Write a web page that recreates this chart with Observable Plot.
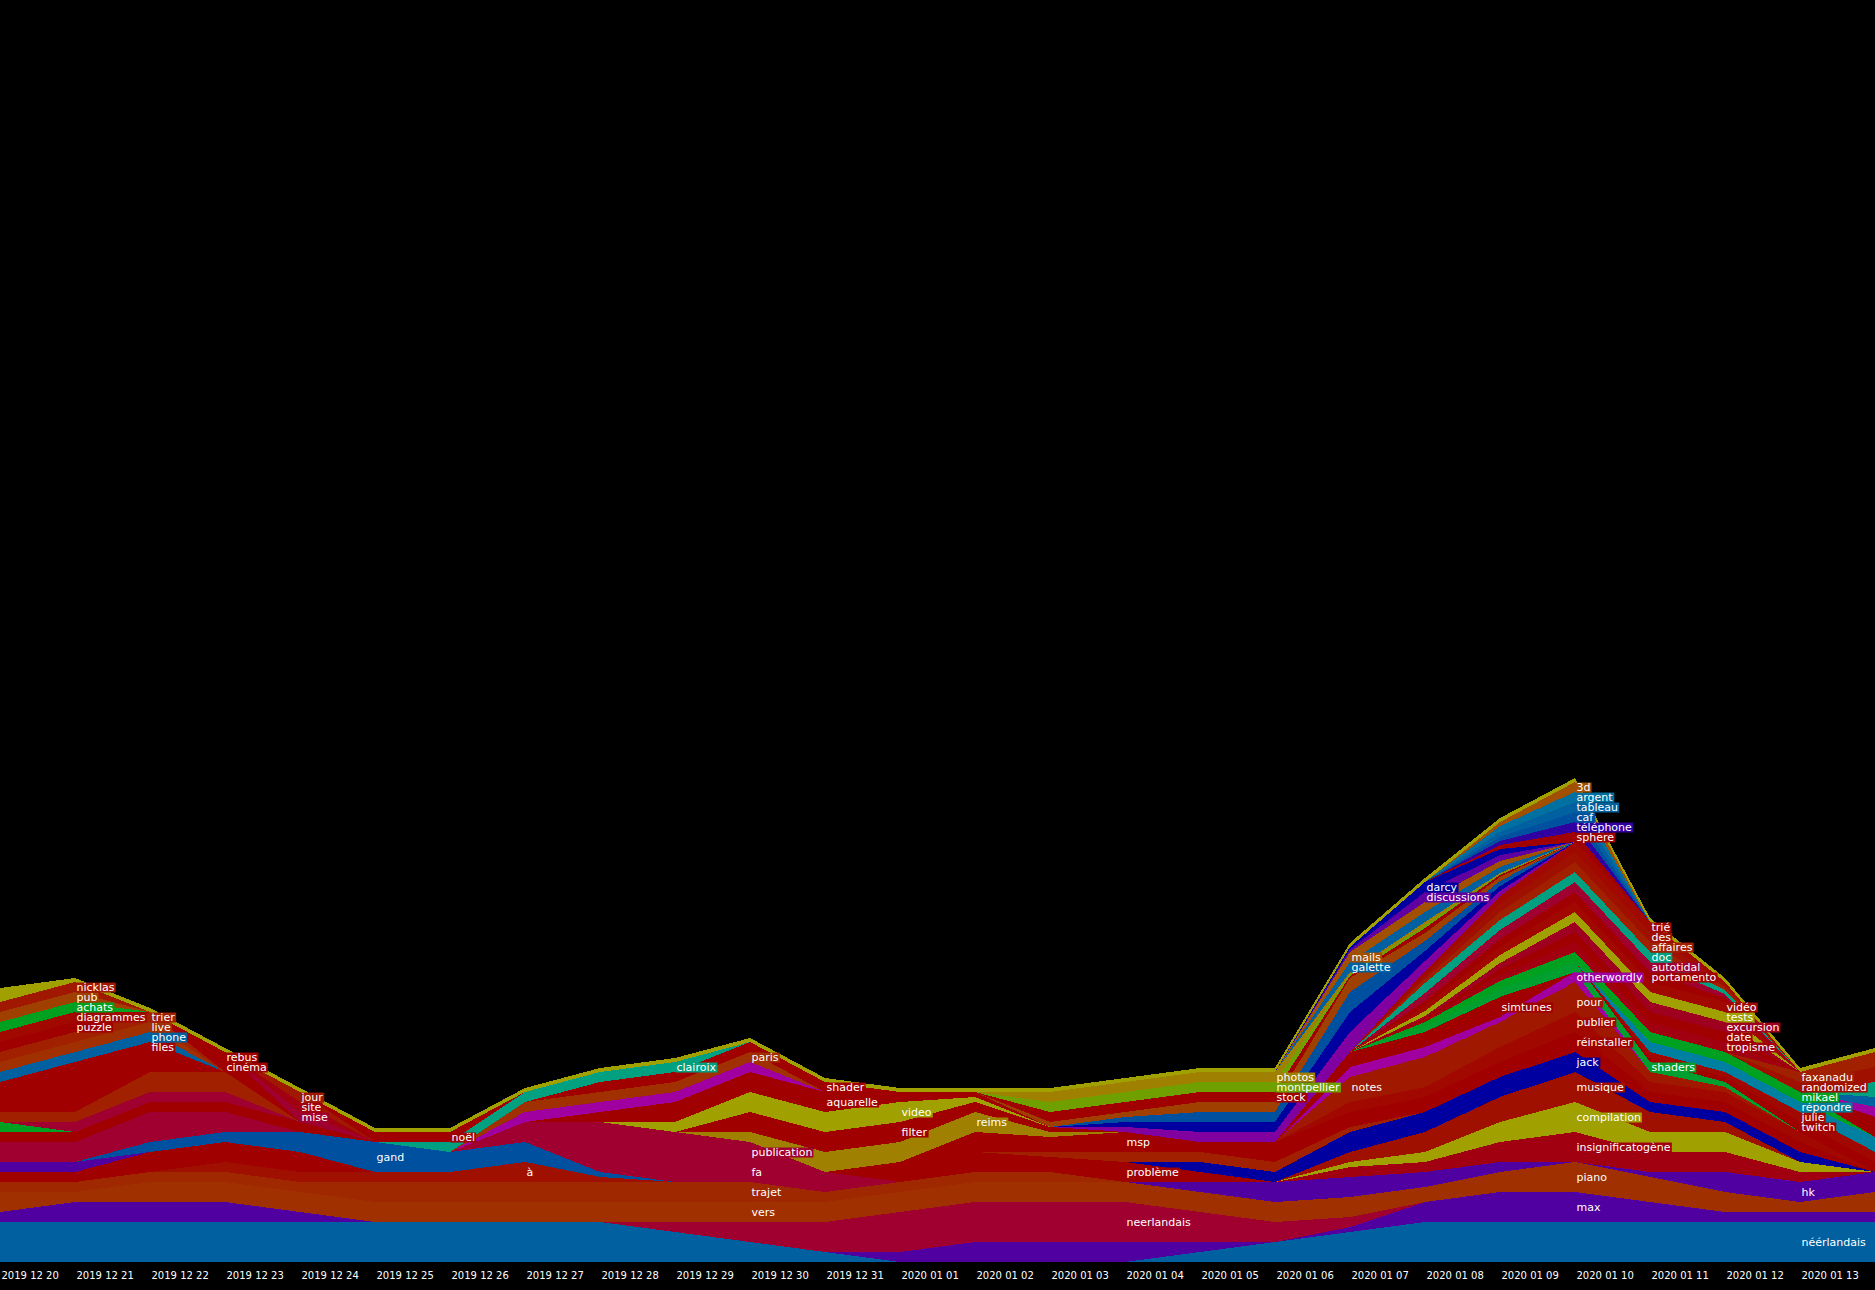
<!DOCTYPE html>
<html><head><meta charset="utf-8">
<script src="https://cdn.jsdelivr.net/npm/d3@7"></script>
<script src="https://cdn.jsdelivr.net/npm/@observablehq/plot@0.6"></script>
<style>
html,body{margin:0;padding:0;background:#000;overflow:hidden}
#chart svg{display:block}
</style></head><body><div id="chart"></div>
<script>
// Days (x categories); the last day has no visible tick label
const dates = ["2019 12 20","2019 12 21","2019 12 22","2019 12 23","2019 12 24","2019 12 25","2019 12 26","2019 12 27","2019 12 28","2019 12 29","2019 12 30","2019 12 31","2020 01 01","2020 01 02","2020 01 03","2020 01 04","2020 01 05","2020 01 06","2020 01 07","2020 01 08","2020 01 09","2020 01 10","2020 01 11","2020 01 12","2020 01 13","2020 01 14"];

// Words in stacking order (bottom to top); names starting with "~" are unlabeled layers
const words = ["néérlandais","max","neerlandais","vers","piano","hk","trajet","à","~r1","~p1","gand","~c1","~r2","~g1","~c2","~o1","~r3","files","phone","live","trier","puzzle","diagrammes","achats","pub","nicklas","~ol","cinéma","rebus","mise","site","jour","fa","publication","problème","insignificatogène","compilation","musique","jack","~o2","msp","réinstaller","publier","pour","notes","otherwordly","simtunes","shaders","twitch","julie","répondre","mikael","~r4","~m1","~b1","~t1","randomized","faxanadu","tropisme","date","excursion","tests","vidéo","portamento","autotidal","doc","affaires","des","trié","reims","filter","video","aquarelle","~m2","paris","shader","clairoix","noël","~v1","~db1","~b2","~o3","stock","montpellier","photos","galette","mails","discussions","darcy","sphere","téléphone","caf","tableau","argent","3d","~top"];

const colors = ["#0060a0","#5000a0","#a00030","#a03000","#a03000","#5000a0","#a02800","#a01000","#a00000","#5000a0","#0050a0","#a00030","#a00000","#00a020","#a00030","#a02000","#a00000","#a00000","#0060a0","#a03000","#a02000","#a00000","#a00800","#00a020","#a04000","#a01800","#a0a000","#a00000","#a00000","#a00030","#a00010","#a01800","#a00030","#a00030","#a00000","#a00010","#a0a000","#a01000","#0000a0","#a02000","#a00000","#a00000","#a00800","#a01800","#a01800","#a000a0","#a00000","#00a030","#a00000","#a00800","#0080a0","#00a020","#a00000","#a000a0","#0060a0","#00a080","#a01000","#a02000","#a00010","#a00000","#a00020","#a0a000","#a00800","#a00000","#a00030","#00a080","#a02000","#a01000","#a00800","#a08000","#a00000","#a0a000","#a00000","#a000a0","#a03000","#a00000","#00a080","#a00000","#8000a0","#0000a0","#0050a0","#a04000","#a00000","#70a000","#a08000","#0060a0","#a05000","#6000a0","#0000a0","#a00000","#3000a0","#0050a0","#0060a0","#0070a0","#a05000","#a0a000"];

// Day index where each word's label is written (null = no label)
const labelDays = [24,21,15,10,21,24,10,7,null,null,5,null,null,null,null,null,null,2,2,2,2,1,1,1,1,1,null,3,3,4,4,4,10,10,15,21,21,21,21,null,15,21,21,21,18,21,20,22,24,24,24,24,null,null,null,null,24,24,23,23,23,23,23,22,22,22,22,22,22,13,12,12,11,null,10,11,9,6,null,null,null,null,17,17,17,18,18,19,19,21,21,21,21,21,21,null];

// Counts per word per day (26 days)
const counts = [
[4,4,4,4,4, 4,4,4,4,3, 2,1,0,0,0, 0,1,2,3,4, 4,4,4,4,4, 4],
[1,2,2,2,1, 0,0,0,0,0, 0,0,1,2,2, 2,1,0,.5,2, 3,3,2,1,1, 1],
[0,0,0,0,0, 0,0,0,0,1, 2,3,4,4,4, 4,3,2,1,0, 0,0,0,0,0, 0],
[2,1,2,2,2, 2,2,2,2,2, 2,2,2,2,2, 2,2,2,1.5,.5, 0,0,0,0,0, 0],
[0,0,0,0,0, 0,0,0,0,0, 0,0,0,0,0, 0,0,0,.5,1, 2,3,2.5,2,1, 2],
[0,0,0,0,0, 0,0,0,0,0, 0,0,0,0,0, 0,1,2,2,1.5, 1,0,.5,2,2, 2],
[1,1,1,1,1, 2,2,2,2,2, 2,1,1,1,1, 0,0,0,0,0, 0,0,0,0,0, 0],
[0,0,0,1,1, 1,1,2,.5,0, 0,0,0,0,0, 0,0,0,0,0, 0,0,0,0,0, 0],
[1,1,2,2,2, 0,0,0,0,0, 0,0,0,0,0, 0,0,0,0,0, 0,0,0,0,0, 0],
[1,1,0,0,0, 0,0,0,0,0, 0,0,0,0,0, 0,0,0,0,0, 0,0,0,0,0, 0],
[0,0,1,1,2, 3,2,2,.5,0, 0,0,0,0,0, 0,0,0,0,0, 0,0,0,0,0, 0],
[2,2,3,2,0, 0,0,0,0,0, 0,0,0,0,0, 0,0,0,0,0, 0,0,0,0,0, 0],
[1,1,1,1,1, 0,0,0,0,0, 0,0,0,0,0, 0,0,0,0,0, 0,0,0,0,0, 0],
[1,0,0,0,0, 0,0,0,0,0, 0,0,0,0,0, 0,0,0,0,0, 0,0,0,0,0, 0],
[0,1,1,1,0, 0,0,0,0,0, 0,0,0,0,0, 0,0,0,0,0, 0,0,0,0,0, 0],
[1,1,2,2,0, 0,0,0,0,0, 0,0,0,0,0, 0,0,0,0,0, 0,0,0,0,0, 0],
[3,5,2,0,0, 0,0,0,0,0, 0,0,0,0,0, 0,0,0,0,0, 0,0,0,0,0, 0],
[0,0,1,0,0, 0,0,0,0,0, 0,0,0,0,0, 0,0,0,0,0, 0,0,0,0,0, 0],
[1,1,1,0,0, 0,0,0,0,0, 0,0,0,0,0, 0,0,0,0,0, 0,0,0,0,0, 0],
[1,1,1,0,0, 0,0,0,0,0, 0,0,0,0,0, 0,0,0,0,0, 0,0,0,0,0, 0],
[1,1,1,0,0, 0,0,0,0,0, 0,0,0,0,0, 0,0,0,0,0, 0,0,0,0,0, 0],
[1,1,0,0,0, 0,0,0,0,0, 0,0,0,0,0, 0,0,0,0,0, 0,0,0,0,0, 0],
[1,1,0,0,0, 0,0,0,0,0, 0,0,0,0,0, 0,0,0,0,0, 0,0,0,0,0, 0],
[1,1,0,0,0, 0,0,0,0,0, 0,0,0,0,0, 0,0,0,0,0, 0,0,0,0,0, 0],
[1,1,0,0,0, 0,0,0,0,0, 0,0,0,0,0, 0,0,0,0,0, 0,0,0,0,0, 0],
[1,1,0,0,0, 0,0,0,0,0, 0,0,0,0,0, 0,0,0,0,0, 0,0,0,0,0, 0],
[1,0,0,0,0, 0,0,0,0,0, 0,0,0,0,0, 0,0,0,0,0, 0,0,0,0,0, 0],
[0,0,0,1,0, 0,0,0,0,0, 0,0,0,0,0, 0,0,0,0,0, 0,0,0,0,0, 0],
[0,0,0,1,0, 0,0,0,0,0, 0,0,0,0,0, 0,0,0,0,0, 0,0,0,0,0, 0],
[0,0,0,0,1, 0,0,0,0,0, 0,0,0,0,0, 0,0,0,0,0, 0,0,0,0,0, 0],
[0,0,0,0,1, 0,0,0,0,0, 0,0,0,0,0, 0,0,0,0,0, 0,0,0,0,0, 0],
[0,0,0,0,1, 0,0,0,0,0, 0,0,0,0,0, 0,0,0,0,0, 0,0,0,0,0, 0],
[0,0,0,0,0, 0,0,1,3,3, 2,1,0,0,0, 0,0,0,0,0, 0,0,0,0,0, 0],
[0,0,0,0,0, 0,0,1,2,2, 2,1,0,0,0, 0,0,0,0,0, 0,0,0,0,0, 0],
[0,0,0,0,0, 0,0,0,0,0, 0,0,1,2,1.5, 2,1,0,0,0, 0,0,0,0,0, 0],
[0,0,0,0,0, 0,0,0,0,0, 0,0,0,0,0, 0,0,0,1,1, 2,3,2,2,1, 0],
[0,0,0,0,0, 0,0,0,0,0, 0,0,0,0,0, 0,0,0,.5,1, 2,3,2,2,1, 0],
[0,0,0,0,0, 0,0,0,0,0, 0,0,0,0,0, 0,0,0,1,2, 2.5,3,2,1,0, 0],
[0,0,0,0,0, 0,0,0,0,0, 0,0,0,0,0, 0,1,1,2,2, 2,2,1,1,1, 0],
[0,0,0,0,0, 0,0,0,0,0, 0,0,0,0,.5, 1,1,1,.5,0, 0,0,0,0,0, 0],
[0,0,0,0,0, 0,0,0,0,0, 0,0,1,2,1.5, 2,1,1,.5,0, 0,0,0,0,0, 0],
[0,0,0,0,0, 0,0,0,0,0, 0,0,0,0,0, 0,0,1,1,1.5, 1.5,2,1,1,1, 0],
[0,0,0,0,0, 0,0,0,0,0, 0,0,0,0,0, 0,0,0,1,1, 1.5,2,1,1,1, 0],
[0,0,0,0,0, 0,0,0,0,0, 0,0,0,0,0, 0,0,0,.5,1.5, 1.5,2,1,.5,0, 0],
[0,0,0,0,0, 0,0,0,0,0, 0,0,0,0,0, 0,0,0,2,1.5, 1,1,0,0,0, 0],
[0,0,0,0,0, 0,0,0,0,0, 0,0,0,0,0, 0,0,0,1,1, .5,1,0,0,0, 0],
[0,0,0,0,0, 0,0,0,0,0, 0,0,0,0,0, 0,0,0,1.5,1.5, 2,0,0,0,0, 0],
[0,0,0,0,0, 0,0,0,0,0, 0,0,0,0,0, 0,0,0,0,.5, .8,1,1,.5,0, 0],
[0,0,0,0,0, 0,0,0,0,0, 0,0,0,0,0, 0,0,0,0,0, 0,0,.5,.5,1, 1],
[0,0,0,0,0, 0,0,0,0,0, 0,0,0,0,0, 0,0,0,0,0, 0,0,.5,.5,1, 1],
[0,0,0,0,0, 0,0,0,0,0, 0,0,0,0,0, 0,0,0,0,0, 0,0,1,1,1, 1.5],
[0,0,0,0,0, 0,0,0,0,0, 0,0,0,0,0, 0,0,0,0,.5, .8,1,1,1,1, 0],
[0,0,0,0,0, 0,0,0,0,0, 0,0,0,0,0, 0,0,0,0,0, 0,0,0,0,0, 2],
[0,0,0,0,0, 0,0,0,0,0, 0,0,0,0,0, 0,0,0,0,0, 0,0,0,0,0, 1],
[0,0,0,0,0, 0,0,0,0,0, 0,0,0,0,0, 0,0,0,0,0, 0,0,0,0,0, 1],
[0,0,0,0,0, 0,0,0,0,0, 0,0,0,0,0, 0,0,0,0,0, 0,0,0,0,0, 1.5],
[0,0,0,0,0, 0,0,0,0,0, 0,0,0,0,0, 0,0,0,0,0, 0,0,0,0,1, 1.5],
[0,0,0,0,0, 0,0,0,0,0, 0,0,0,0,0, 0,0,0,0,0, 0,0,0,0,1, 1.5],
[0,0,0,0,0, 0,0,0,0,0, 0,0,0,0,0, 0,0,0,0,.2, .6,1,1,1,0, 0],
[0,0,0,0,0, 0,0,0,0,0, 0,0,0,0,0, 0,0,0,0,.2, .6,1,1,1,0, 0],
[0,0,0,0,0, 0,0,0,0,0, 0,0,0,0,0, 0,0,0,0,.2, .6,1,1,1,0, 0],
[0,0,0,0,0, 0,0,0,0,0, 0,0,0,0,0, 0,0,0,0,.5, .8,1,1,1,0, 0],
[0,0,0,0,0, 0,0,0,0,0, 0,0,0,0,0, 0,0,0,0,.5, .8,1,1,1,0, 0],
[0,0,0,0,0, 0,0,0,0,0, 0,0,0,0,0, 0,0,0,0,.5, .8,1,1,.4,0, 0],
[0,0,0,0,0, 0,0,0,0,0, 0,0,0,0,0, 0,0,0,0,.8, .9,1,1,.4,0, 0],
[0,0,0,0,0, 0,0,0,0,0, 0,0,0,0,0, 0,0,0,0,1, 1,1,1,.4,0, 0],
[0,0,0,0,0, 0,0,0,0,0, 0,0,0,0,0, 0,0,0,0,.4, .8,1,1,.3,0, 0],
[0,0,0,0,0, 0,0,0,0,0, 0,0,0,0,0, 0,0,0,0,.4, .8,1,1,.3,0, 0],
[0,0,0,0,0, 0,0,0,0,0, 0,0,0,0,0, 0,0,0,0,.4, .8,1,1,.2,0, 0],
[0,0,0,0,0, 0,0,0,0,0, 1,2,2,2,.5, 0,0,0,0,0, 0,0,0,0,0, 0],
[0,0,0,0,0, 0,0,0,0,0, 2,2,2,1,.5, 0,0,0,0,0, 0,0,0,0,0, 0],
[0,0,0,0,0, 0,0,0,0,1, 2,2,2,.5,0, 0,0,0,0,0, 0,0,0,0,0, 0],
[0,0,0,0,0, 0,0,0,1,2, 2,2,1,.5,0, 0,0,0,0,0, 0,0,0,0,0, 0],
[0,0,0,0,0, 0,0,1,1,1, 1,0,0,0,0, 0,0,0,0,0, 0,0,0,0,0, 0],
[0,0,0,0,0, 0,0,1,1,1, 1,0,0,0,0, 0,0,0,0,0, 0,0,0,0,0, 0],
[0,0,0,0,0, 0,0,0,1,1, 1,1,0,0,0, 0,0,0,0,0, 0,0,0,0,0, 0],
[0,0,0,0,0, 0,1,1,1,1, 0,0,0,0,0, 0,0,0,0,0, 0,0,0,0,0, 0],
[0,0,0,0,0, 1,1,0,0,0, 0,0,0,0,0, 0,0,0,0,0, 0,0,0,0,0, 0],
[0,0,0,0,0, 0,0,0,0,0, 0,0,0,0,0, .5,1,1,2,1, .5,0,0,0,0, 0],
[0,0,0,0,0, 0,0,0,0,0, 0,0,0,0,0, .5,1,1,2,1, .5,0,0,0,0, 0],
[0,0,0,0,0, 0,0,0,0,0, 0,0,0,0,0, .5,1,1,2,1, .5,0,0,0,0, 0],
[0,0,0,0,0, 0,0,0,0,0, 0,0,0,0,.5, .5,1,1,1.4,.8, .4,0,0,0,0, 0],
[0,0,0,0,0, 0,0,0,0,0, 0,0,0,0,1, 1,1,1,.2,.5, .2,0,0,0,0, 0],
[0,0,0,0,0, 0,0,0,0,0, 0,0,0,0,1, 1,1,1,.2,.3, .1,0,0,0,0, 0],
[0,0,0,0,0, 0,0,0,0,0, 0,0,0,0,1, 1,1,1,.2,.3, .1,0,0,0,0, 0],
[0,0,0,0,0, 0,0,0,0,0, 0,0,0,0,0, 0,0,0,1,1, .6,0,0,0,0, 0],
[0,0,0,0,0, 0,0,0,0,0, 0,0,0,0,0, 0,0,0,1,1, .6,0,0,0,0, 0],
[0,0,0,0,0, 0,0,0,0,0, 0,0,0,0,0, 0,0,0,.25,1, .6,0,0,0,0, 0],
[0,0,0,0,0, 0,0,0,0,0, 0,0,0,0,0, 0,0,0,.25,1, .6,0,0,0,0, 0],
[0,0,0,0,0, 0,0,0,0,0, 0,0,0,0,0, 0,0,0,0,0, .4,1,0,0,0, 0],
[0,0,0,0,0, 0,0,0,0,0, 0,0,0,0,0, 0,0,0,0,0, .4,1,0,0,0, 0],
[0,0,0,0,0, 0,0,0,0,0, 0,0,0,0,0, 0,0,0,0,0, .4,1,0,0,0, 0],
[0,0,0,0,0, 0,0,0,0,0, 0,0,0,0,0, 0,0,0,0,0, .5,1,0,0,0, 0],
[0,0,0,0,0, 0,0,0,0,0, 0,0,0,0,0, 0,0,0,0,0, .6,1,0,0,0, 0],
[0,0,0,0,0, 0,0,0,0,0, 0,0,0,0,0, 0,0,0,0,0, .4,1,0,0,0, 0],
[.4,.4,.4,.4,.4, .4,.4,.4,.4,.4, .4,.4,.4,.4,.4, .4,.4,.4,.4,.4, .4,.4,.4,.4,.4, .4]
];

// Long table built from the arrays (series-major order gives the stacking order)
const rows = [];
words.forEach((w, i) => counts[i].forEach((v, d) => rows.push({
  day: d, word: w, value: v, color: colors[i],
  label: labelDays[i] === d ? w : null
})));

const chart = Plot.plot({
  width: 1875, height: 1290,
  marginTop: 0, marginRight: 0, marginBottom: 28, marginLeft: 0,
  style: {background: "#000", color: "#fff", fontFamily: "DejaVu Sans", fontSize: "10px"},
  x: {domain: [0, 25], label: null},
  y: {domain: [0, 126.2], axis: null},
  color: {type: "identity"},
  marks: [
    Plot.areaY(rows, {x: "day", y: "value", z: "word", fill: "color", curve: "linear", shapeRendering: "crispEdges"}),
    Plot.text(rows, Plot.stackY({x: "day", y: "value", z: "word", text: "label", fill: "white", textAnchor: "start", dx: 1, fontSize: 11})),
    Plot.axisX({ticks: d3.range(25), tickSize: 0, tickPadding: 3, tickFormat: d => dates[d], textAnchor: "start", dx: 1, dy: 6, fontSize: 10, label: null})
  ]
});
document.getElementById("chart").append(chart);

// colored background boxes behind the word labels
const colorOf = new Map(words.map((w, i) => [w, colors[i]]));
for (const t of chart.querySelectorAll('g[aria-label="text"] text')) {
  const b = t.getBBox();
  const r = document.createElementNS("http://www.w3.org/2000/svg", "rect");
  r.setAttribute("x", b.x - 1);
  r.setAttribute("y", b.y + b.height / 2 - 5);
  r.setAttribute("width", b.width + 2);
  r.setAttribute("height", 10);
  r.setAttribute("fill", colorOf.get(t.textContent) || "none");
  if (t.hasAttribute("transform")) r.setAttribute("transform", t.getAttribute("transform"));
  t.before(r);
}
</script>
</body></html>
